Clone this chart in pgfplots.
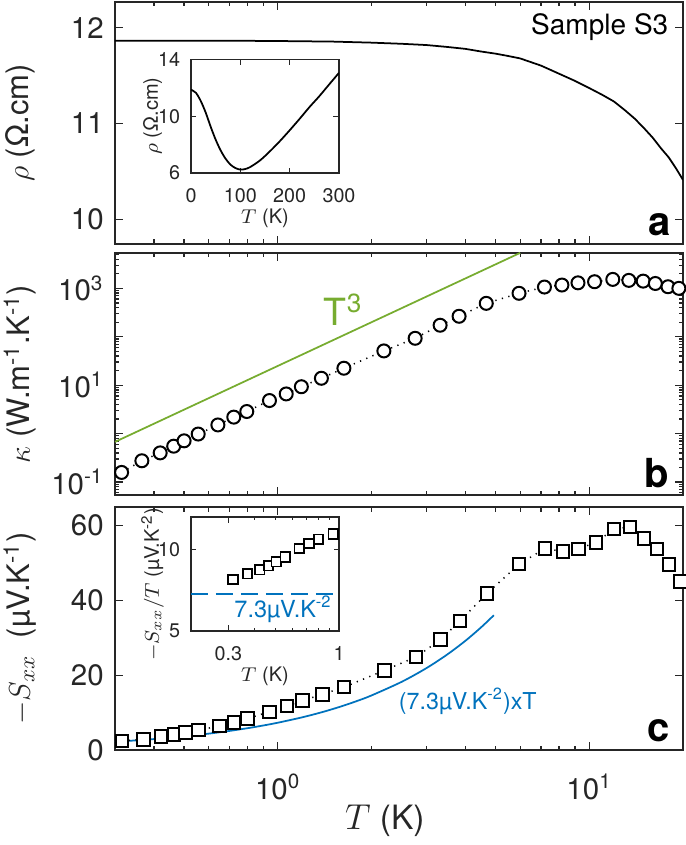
\documentclass[border=0pt]{standalone}
\usepackage{fontspec}
\setmainfont{TeX Gyre Heros}
\usepackage{pgfplots}
\pgfplotsset{compat=1.18}
\definecolor{mblue}{RGB}{0,114,189}
\definecolor{mgreen}{RGB}{119,172,48}
\definecolor{axgray}{RGB}{38,38,38}
\newcommand\tickfont{\fontsize{11.8}{13}\selectfont}
\newcommand\labfont{\fontsize{12.4}{14}\selectfont}
\newcommand\itickfont{\fontsize{7.9}{9}\selectfont}
\newcommand\ilabfont{\fontsize{8}{9}\selectfont}
\pgfplotsset{
  mypanel/.style={scale only axis, width=227.2pt, xmin=0.3, xmax=20,
    axis line style={draw=axgray, line width=0.6pt},
    tick style={draw=axgray, line width=0.5pt},
    major tick length=3.2pt, minor tick length=1.8pt, tick align=inside,
    xtick={1,10},
    minor xtick={0.4,0.5,0.6,0.7,0.8,0.9,2,3,4,5,6,7,8,9,20},
    ticklabel style={font=\tickfont, text=axgray},
    yticklabel style={xshift=-1.0pt}, xticklabel style={yshift=-6pt},
    label style={font=\labfont, text=axgray},
    ylabel style={at={(axis description cs:-0.167,0.5)}, anchor=center},
    clip mode=individual,
  },
  myinset/.style={scale only axis, width=59.2pt, height=45.4pt,
    axis background/.style={fill=white},
    axis line style={draw=axgray, line width=0.5pt},
    tick style={draw=axgray, line width=0.4pt},
    major tick length=2.2pt, minor tick length=1.3pt, tick align=inside,
    ticklabel style={font=\itickfont, text=axgray},
    yticklabel style={xshift=-0.8pt}, xticklabel style={yshift=-2.5pt},
    label style={font=\ilabfont, text=axgray},
    ylabel style={at={(axis description cs:-0.26,0.5)}, anchor=center},
    xlabel style={at={(axis description cs:0.5,-0.4)}, anchor=center},
  },
  dotline/.style={black, line width=0.6pt, dash pattern=on 0.5pt off 2.2pt},
}
\begin{document}
\begin{tikzpicture}
\useasboundingbox (0,0) rectangle (274pt,338pt);
% ---------------- panel a
\begin{axis}[mypanel, xmode=log, at={(46pt,240.4pt)}, anchor=south west, height=96.8pt,
  ymin=9.74, ymax=12.27, ytick={10,11,12}, yticklabels={10,11,12},
  xticklabels={}, ylabel={$\rho$ (Ω.cm)}]
\addplot[black, line width=0.7pt] coordinates {
(0.3,11.866) (0.5,11.866) (0.8,11.864) (1.0,11.862) (1.5,11.856) (2.0,11.845)
(2.5,11.833) (3.0,11.82) (3.5,11.80) (4.0,11.78) (4.5,11.752) (5.0,11.73)
(5.5,11.705) (6.0,11.68) (7.0,11.605) (8.0,11.52) (9.0,11.445) (10.0,11.37)
(11.0,11.30) (12.0,11.23) (13.0,11.14) (14.0,11.05) (15.0,10.95) (16.0,10.85)
(17.0,10.74) (18.0,10.645) (19.0,10.53) (20.0,10.41)};
\node[anchor=north east, inner sep=0pt, font=\fontsize{11.2}{13}\selectfont, text=black]
  at (axis description cs:0.975,0.955) {Sample S3};
\node[anchor=base east, inner sep=0pt, font=\fontsize{16}{18}\selectfont\bfseries]
  at (axis description cs:0.979,0.037) {a};
\end{axis}
% inset a
\begin{axis}[myinset, at={(76.4pt,268.8pt)}, anchor=south west,
  xmin=0, xmax=300, ymin=6, ymax=14,
  xtick={0,100,200,300}, xticklabels={0,100,200,300},
  ytick={6,10,14}, yticklabels={6,10,14},
  xlabel={$T$ (K)}, ylabel={$\rho$ (Ω.cm)}]
\addplot[black, line width=0.7pt, smooth] coordinates {
(0,11.87) (10,11.65) (20,11.06) (30,10.24) (40,9.25) (50,8.35) (60,7.6)
(70,7.01) (80,6.59) (90,6.35) (100,6.24) (110,6.28) (120,6.42) (140,6.89)
(160,7.53) (180,8.24) (200,9.01) (220,9.81) (240,10.64) (260,11.41)
(280,12.24) (300,13.06)};
\end{axis}
% ---------------- panel b
\begin{axis}[mypanel, xmode=log, ymode=log, at={(46pt,140pt)}, anchor=south west, height=96.8pt,
  ymin=0.054, ymax=5370,
  ytick={0.1,1,10,100,1000},
  yticklabels={10\textsuperscript{-1},,10\textsuperscript{1},,10\textsuperscript{3}},
  minor ytick={0.06,0.07,0.08,0.09,0.2,0.3,0.4,0.5,0.6,0.7,0.8,0.9,2,3,4,5,6,7,8,9,
    20,30,40,50,60,70,80,90,200,300,400,500,600,700,800,900,2000,3000,4000,5000},
  xticklabels={}, ylabel={$\kappa$ (W.m\textsuperscript{-1}.K\textsuperscript{-1})}]
\addplot[mgreen, line width=0.7pt] coordinates {(0.3,0.675) (6.0,5400)};
\addplot[dotline, mark=*, mark size=2.6pt, mark options={solid, line width=0.8pt, draw=black, fill=white}] coordinates {
(0.315,0.158) (0.366,0.275) (0.419,0.40) (0.463,0.55) (0.50,0.71) (0.555,0.98)
(0.642,1.51) (0.722,2.19) (0.795,2.86) (0.94,4.82) (1.064,6.6) (1.19,9.3)
(1.38,13.9) (1.63,22.4) (2.19,51) (2.76,93) (3.32,173) (3.82,265) (4.67,490)
(5.95,790) (7.18,1064) (8.17,1170) (9.2,1300) (10.4,1370) (11.9,1530)
(13.4,1460) (14.9,1410) (16.3,1260) (17.9,1080) (19.4,1000)};
\node[anchor=base west, inner sep=0pt, text=mgreen, font=\fontsize{15}{17}\selectfont]
  at (axis cs:1.40,170) {T\textsuperscript{3}};
\node[anchor=base east, inner sep=0pt, font=\fontsize{16}{18}\selectfont\bfseries]
  at (axis description cs:0.977,0.029) {b};
\end{axis}
% ---------------- panel c
\begin{axis}[mypanel, xmode=log, at={(46pt,38pt)}, anchor=south west, height=97.2pt,
  ymin=0, ymax=65, ytick={0,20,40,60}, yticklabels={0,20,40,60},
  xticklabels={10\textsuperscript{0},10\textsuperscript{1}},
  xlabel={$T$ (K)}, xlabel style={at={(axis description cs:0.475,-0.29)}, anchor=center,
    font=\fontsize{13.4}{15}\selectfont},
  ylabel={$-S_{xx}$~~(µV.K\textsuperscript{-1})}]
\addplot[mblue, line width=0.7pt, smooth] coordinates {
(0.3,2.19) (0.4,2.92) (0.5,3.65) (0.6,4.38) (0.7,5.11) (0.8,5.84) (0.9,6.57)
(1.0,7.3) (1.2,8.76) (1.4,10.22) (1.6,11.68) (1.8,13.14) (2.0,14.6) (2.5,18.25)
(3.0,21.9) (3.5,25.55) (4.0,29.2) (4.5,32.85) (4.94,36.06)};
\addplot[dotline, mark=square*, mark size=2.5pt, mark options={solid, line width=0.8pt, draw=black, fill=white}] coordinates {
(0.316,2.4) (0.370,2.85) (0.422,3.55) (0.464,4.18) (0.505,4.71) (0.557,5.33)
(0.649,6.4) (0.722,7.38) (0.80,8.44) (0.94,10.2) (1.07,11.73) (1.20,13.2)
(1.39,14.9) (1.63,16.8) (2.20,21.3) (2.78,24.9) (3.33,29.5) (3.84,34.5)
(4.70,41.9) (5.95,49.7) (7.21,53.9) (8.22,53.1) (9.22,53.8) (10.5,55.5)
(12.0,59.1) (13.5,59.7) (15.0,56.6) (16.5,53.8) (18.0,49.6) (19.6,45.1)};
\node[anchor=base west, inner sep=0pt, text=mblue, font=\fontsize{9.3}{11}\selectfont]
  at (axis cs:2.44,10.9) {(7.3µV.K\textsuperscript{-2})xT};
\node[anchor=base east, inner sep=0pt, font=\fontsize{16}{18}\selectfont\bfseries]
  at (axis description cs:0.977,0.033) {c};
\end{axis}
% inset c
\begin{axis}[myinset, at={(76.4pt,85.6pt)}, anchor=south west, height=45.6pt,
  xmode=log, xmin=0.2, xmax=1, ymin=5, ymax=12,
  xtick={0.3,1}, xticklabels={0.3,1}, minor xtick={0.4,0.5,0.6,0.7,0.8,0.9},
  ytick={5,10}, yticklabels={5,10},
  ylabel style={at={(axis description cs:-0.26,0.41)}},
  xlabel={$T$ (K)}, ylabel={$-S_{xx}/T$ (µV.K\textsuperscript{-2})}]
\addplot[draw=mblue, line width=0.8pt, dash pattern=on 7pt off 3pt] coordinates {(0.2,7.3) (1,7.3)};
\addplot[only marks, mark=square*, mark size=1.9pt, mark options={line width=0.7pt, draw=black, fill=white}] coordinates {
(0.316,8.16) (0.370,8.51) (0.422,8.76) (0.464,9.0) (0.505,9.26) (0.557,9.54)
(0.649,10.06) (0.722,10.37) (0.80,10.64) (0.94,10.95)};
\node[anchor=base east, inner sep=0pt, text=mblue, font=\fontsize{9.4}{11}\selectfont]
  at (axis description cs:0.955,0.12) {7.3µV.K\textsuperscript{-2}};
\end{axis}
\end{tikzpicture}
\end{document}
